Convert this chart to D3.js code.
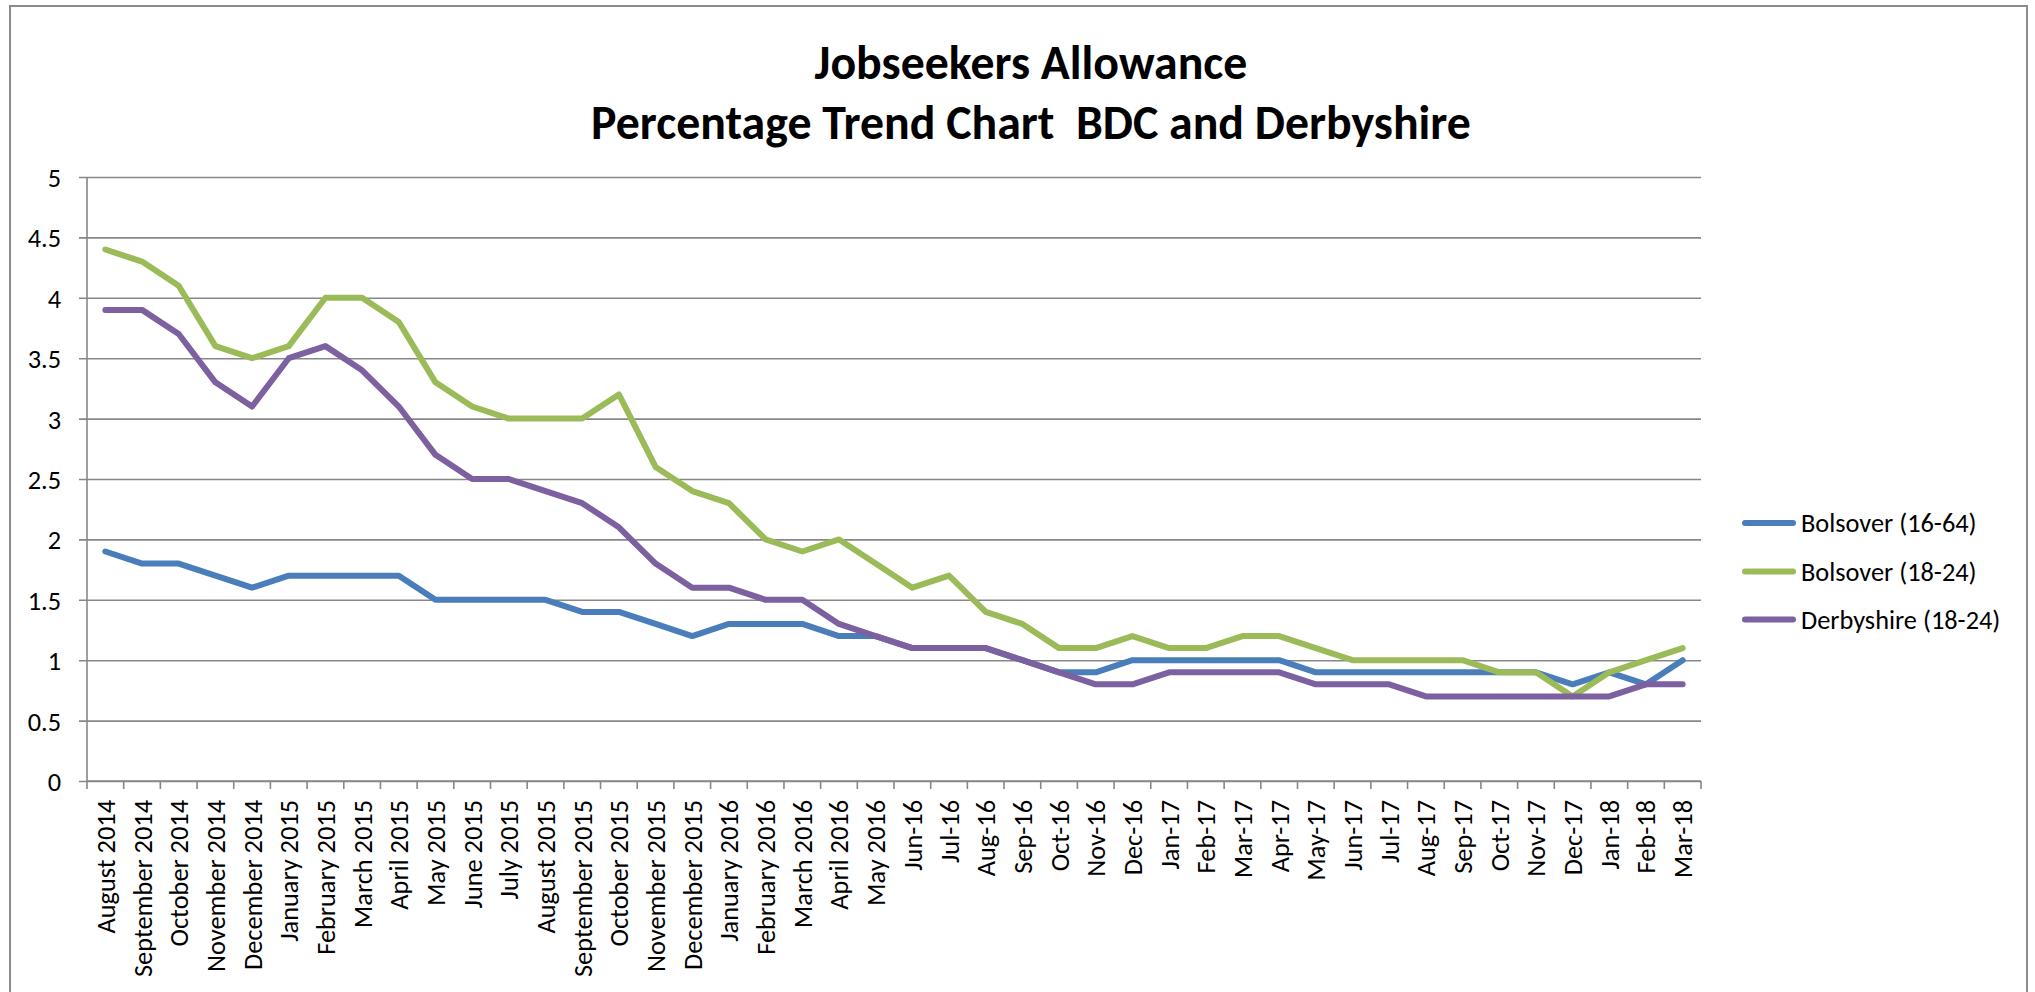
<!DOCTYPE html>
<html><head><meta charset="utf-8">
<script src="https://cdn.jsdelivr.net/npm/d3@7"></script>
<style>body{margin:0;background:#fff;overflow:hidden}</style>
</head><body>
<svg id="chart" width="2035" height="992"></svg>
<script>
const categories = ["August 2014","September 2014","October 2014","November 2014","December 2014",
  "January 2015","February 2015","March 2015","April 2015","May 2015","June 2015","July 2015",
  "August 2015","September 2015","October 2015","November 2015","December 2015",
  "January 2016","February 2016","March 2016","April 2016","May 2016",
  "Jun-16","Jul-16","Aug-16","Sep-16","Oct-16","Nov-16","Dec-16",
  "Jan-17","Feb-17","Mar-17","Apr-17","May-17","Jun-17","Jul-17","Aug-17","Sep-17","Oct-17","Nov-17","Dec-17",
  "Jan-18","Feb-18","Mar-18"];
const bolsover1664 = [1.9,1.8,1.8,1.7,1.6,1.7,1.7,1.7,1.7,1.5,1.5,1.5,1.5,1.4,1.4,1.3,1.2,1.3,1.3,1.3,1.2,1.2,
  1.1,1.1,1.1,1.0,0.9,0.9,1.0,1.0,1.0,1.0,1.0,0.9,0.9,0.9,0.9,0.9,0.9,0.9,0.8,0.9,0.8,1.0];
const bolsover1824 = [4.4,4.3,4.1,3.6,3.5,3.6,4.0,4.0,3.8,3.3,3.1,3.0,3.0,3.0,3.2,2.6,2.4,2.3,2.0,1.9,2.0,1.8,
  1.6,1.7,1.4,1.3,1.1,1.1,1.2,1.1,1.1,1.2,1.2,1.1,1.0,1.0,1.0,1.0,0.9,0.9,0.7,0.9,1.0,1.1];
const derbyshire1824 = [3.9,3.9,3.7,3.3,3.1,3.5,3.6,3.4,3.1,2.7,2.5,2.5,2.4,2.3,2.1,1.8,1.6,1.6,1.5,1.5,1.3,1.2,
  1.1,1.1,1.1,1.0,0.9,0.8,0.8,0.9,0.9,0.9,0.9,0.8,0.8,0.8,0.7,0.7,0.7,0.7,0.7,0.7,0.8,0.8];
const seriesNames = ["Bolsover (16-64)","Bolsover (18-24)","Derbyshire (18-24)"];
const seriesColors = ["#4A7EBB","#9BBB59","#7D60A0"];
const yTicks = [0,0.5,1,1.5,2,2.5,3,3.5,4,4.5,5];
const titleLines = ["Jobseekers Allowance","Percentage Trend Chart  BDC and Derbyshire"];

const seriesValues = [bolsover1664, bolsover1824, derbyshire1824];
const FONT = "Carlito, Calibri, Lato, sans-serif";
const svg = d3.select("#chart");
svg.append("rect").attr("width",2035).attr("height",992).attr("fill","#fff");
// chart-area border
svg.append("rect").attr("x",10).attr("y",6).attr("width",2017).attr("height",1100)
  .attr("fill","none").attr("stroke","#8c8c8c").attr("stroke-width",2);

const L = 87, R = 1701, T = 177, B = 781;
const x = d3.scaleBand().domain(categories).range([L, R]).padding(0);
const y = d3.scaleLinear().domain([0,5]).range([B, T]);
const cx = d => x(d) + x.bandwidth()/2;

// size calibration for small text
const probe = svg.append("text").attr("font-family",FONT).attr("font-size",26.67).text("September 2014");
const kSmall = 177 / probe.node().getComputedTextLength();
probe.remove();
const smallFs = 26.67 * kSmall;
const capSmall = 0.36;

// y gridlines + ticks via axis
const gy = svg.append("g").attr("transform",`translate(${R},0)`)
  .call(d3.axisLeft(y).tickValues(yTicks).tickSize(R - 79).tickPadding(18).tickFormat(d => String(d)));
gy.select(".domain").remove();
gy.selectAll(".tick line").attr("stroke","#878787").attr("stroke-width",1.6);
gy.selectAll(".tick text").attr("font-family",FONT).attr("font-size",smallFs)
  .attr("fill","#000").attr("dy",`${capSmall}em`);

// y axis line
svg.append("line").attr("x1",L).attr("x2",L).attr("y1",y(5)).attr("y2",y(0))
  .attr("stroke","#878787").attr("stroke-width",1.6);

// x axis
const gx = svg.append("g").attr("transform",`translate(0,${B})`)
  .call(d3.axisBottom(x).tickSize(0).tickPadding(0));
gx.select(".domain").attr("stroke","#878787").attr("stroke-width",1.6).attr("d",`M${L},0H${R}`);
gx.selectAll(".tick text").attr("font-family",FONT).attr("font-size",smallFs).attr("fill","#000")
  .attr("y",0).attr("x",0).attr("dy",`${capSmall}em`)
  .attr("text-anchor","end").attr("transform","translate(0,19) rotate(-90)");
// boundary tick marks
const bounds = categories.map(c => x(c)).concat([R]);
svg.append("g").selectAll("line").data(bounds).join("line")
  .attr("x1",d=>d).attr("x2",d=>d).attr("y1",B).attr("y2",B+8)
  .attr("stroke","#878787").attr("stroke-width",1.6);

// series lines
const line = d3.line().x((d,i) => cx(categories[i])).y(d => y(d));
svg.append("g").selectAll("path").data(seriesValues).join("path")
  .attr("d", d => line(d)).attr("fill","none")
  .attr("stroke",(d,i)=>seriesColors[i]).attr("stroke-width",6)
  .attr("stroke-linejoin","round").attr("stroke-linecap","round");

// legend
const legRows = [523, 571.5, 619.5];
const lg = svg.append("g").selectAll("g").data(seriesNames).join("g")
  .attr("transform",(d,i)=>`translate(0,${legRows[i]})`);
lg.append("line").attr("x1",1745).attr("x2",1793).attr("y1",0).attr("y2",0)
  .attr("stroke",(d,i)=>seriesColors[i]).attr("stroke-width",6).attr("stroke-linecap","round");
lg.append("text").attr("x",1801).attr("y",0).attr("dy",`${capSmall}em`)
  .attr("font-family",FONT).attr("font-size",smallFs).attr("fill","#000").text(d=>d);

// title
const tp = svg.append("text").attr("font-family",FONT).attr("font-weight","bold").attr("font-size",48)
  .style("white-space","pre").text(titleLines[1]);
const kTitle = 880 / tp.node().getComputedTextLength();
tp.remove();
const titleBase = [79, 138.5];
svg.append("g").selectAll("text").data(titleLines).join("text")
  .attr("x",1031).attr("y",(d,i)=>titleBase[i]).attr("text-anchor","middle")
  .attr("font-family",FONT).attr("font-weight","bold").attr("font-size",48*kTitle)
  .style("white-space","pre").attr("fill","#000").text(d=>d);
</script>
</body></html>
